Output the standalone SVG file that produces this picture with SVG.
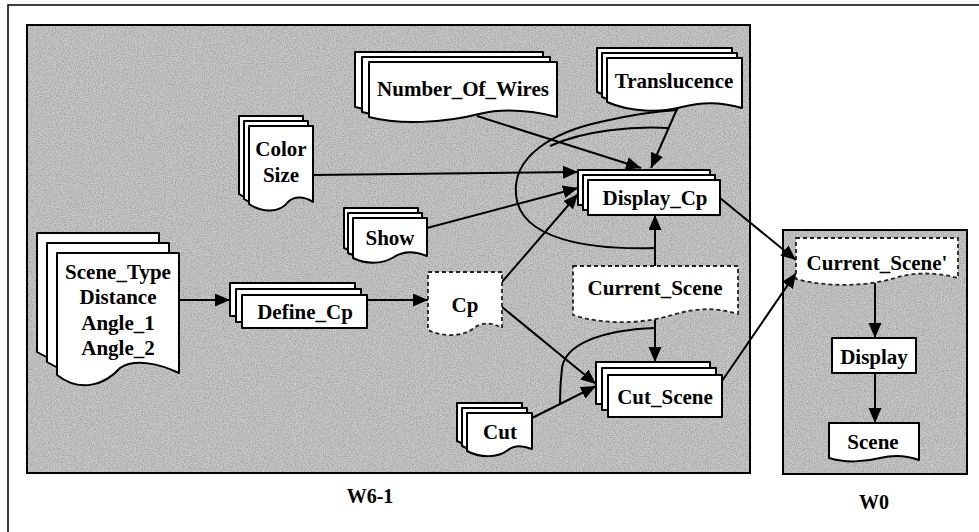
<svg xmlns="http://www.w3.org/2000/svg" width="979" height="532" viewBox="0 0 979 532">
<style>
.frame{fill:#ffffff;stroke:#000;stroke-width:1.5}
.panel{fill:#c9c9c9;stroke:#000;stroke-width:2}
.sheet{fill:#ffffff;stroke:#000;stroke-width:2;stroke-linejoin:round}
.data{fill:#ffffff;stroke:#222;stroke-width:1.8;stroke-dasharray:4 3}
.lbl{font-family:"Liberation Serif","Times New Roman",serif;font-weight:bold;font-size:21px;fill:#000;text-anchor:middle}
.cap{font-family:"Liberation Serif","Times New Roman",serif;font-weight:bold;font-size:20px;fill:#000;text-anchor:middle}
.edge{fill:none;stroke:#000;stroke-width:2}
</style>
<defs>
<marker id="ah" markerUnits="userSpaceOnUse" markerWidth="16" markerHeight="14" refX="15" refY="6.5" orient="auto">
<path d="M0,0 L15,6.5 L0,13 z" fill="#000"/>
</marker>
<filter id="grain" x="0" y="0" width="100%" height="100%">
<feTurbulence type="fractalNoise" baseFrequency="0.85" numOctaves="2" seed="7" result="n"/>
<feColorMatrix in="n" type="matrix" values="0 0 0 0 0  0 0 0 0 0  0 0 0 0 0  0 0 0 -2.4 1.55" result="d"/>
<feComposite in="d" in2="SourceGraphic" operator="in"/>
</filter>
</defs>

<rect class="frame" x="8" y="5" width="990" height="540"/>

<g id="panel-W6-1">
<rect class="panel" x="27" y="25" width="723" height="448"/>
<rect x="28" y="26" width="721" height="446" fill="#000" opacity="0.18" filter="url(#grain)"/>
<text class="cap" x="370" y="503">W6-1</text>
</g>
<g id="panel-W0">
<rect class="panel" x="783" y="230" width="184" height="244"/>
<rect x="784" y="231" width="182" height="242" fill="#000" opacity="0.18" filter="url(#grain)"/>
<text class="cap" x="874" y="509">W0</text>
</g>

<g id="connectors">
<path class="edge" d="M179,300 L230,300" marker-end="url(#ah)"/>
<path class="edge" d="M367,300 L428,300" marker-end="url(#ah)"/>
<path class="edge" d="M313,175 L578,172" marker-end="url(#ah)"/>
<path class="edge" d="M427,228 L578,188" marker-end="url(#ah)"/>
<path class="edge" d="M502,282 L578,194" marker-end="url(#ah)"/>
<path class="edge" d="M477,116 L641,168" marker-end="url(#ah)"/>
<path class="edge" d="M677,109 L651,168" marker-end="url(#ah)"/>
<path class="edge" d="M655,266 L655,215" marker-end="url(#ah)"/>
<path class="edge" d="M655,248 C590,250 520,240 516,195 C512,155 555,132 600,122 C630,115 660,111 678,110"/>
<path class="edge" d="M550,146 C585,130 635,126 668,128" stroke-width="1.5"/>
<path class="edge" d="M655,318 L655,362" marker-end="url(#ah)"/>
<path class="edge" d="M655,328 C600,330 565,345 562,368 C560,385 560,395 560,403"/>
<path class="edge" d="M502,307 L596,384" marker-end="url(#ah)"/>
<path class="edge" d="M532,418 L596,386" marker-end="url(#ah)"/>
<path class="edge" d="M720,198 L796,260" marker-end="url(#ah)"/>
<path class="edge" d="M722,381 L796,273" marker-end="url(#ah)"/>
<path class="edge" d="M875,283 L875,338" marker-end="url(#ah)"/>
<path class="edge" d="M875,373 L875,423" marker-end="url(#ah)"/>
</g>

<g id="node-scene-type">
<path class="sheet" d="M37,233 H159 V348 C135,340 120,338 98,348 C82,366 60,366 37,352 Z"/>
<path class="sheet" d="M47,243 H169 V358 C145,350 130,348 108,358 C92,376 70,376 47,362 Z"/>
<path class="sheet" d="M57,253 H179 V373 C160,364 135,358 120,368 C105,385 80,393 57,375 Z"/>
<text class="lbl" x="118" y="279">Scene_Type</text>
<text class="lbl" x="118" y="304">Distance</text>
<text class="lbl" x="118" y="330">Angle_1</text>
<text class="lbl" x="118" y="355">Angle_2</text>
</g>

<g id="node-color-size">
<path class="sheet" d="M239,116 H303 V192 C294,186 284,186 278,192 C270,203 252,203 239,194 Z"/>
<path class="sheet" d="M244,121 H308 V197 C299,191 289,191 283,197 C275,208 257,208 244,199 Z"/>
<path class="sheet" d="M249,126 H313 V202 C304,196 294,196 288,202 C280,213 262,213 249,204 Z"/>
<text class="lbl" x="281" y="156">Color</text>
<text class="lbl" x="281" y="182">Size</text>
</g>

<g id="node-show">
<path class="sheet" d="M344,208 H418 V246 C406,241 394,241 385,247 C372,255 356,254 344,248 Z"/>
<path class="sheet" d="M348,213 H422 V251 C410,246 398,246 389,252 C376,260 360,259 348,253 Z"/>
<path class="sheet" d="M353,218 H427 V256 C415,251 403,251 394,257 C381,265 365,264 353,258 Z"/>
<text class="lbl" x="390" y="245">Show</text>
</g>

<g id="node-number-of-wires">
<path class="sheet" d="M355,52 H543 V107 C515,100 490,98 465,104 C430,113 385,115 355,107 Z"/>
<path class="sheet" d="M362,57 H550 V112 C522,105 497,103 472,109 C437,118 392,120 362,112 Z"/>
<path class="sheet" d="M369,62 H557 V117 C529,110 504,108 479,114 C444,123 399,125 369,117 Z"/>
<text class="lbl" x="463" y="96">Number_Of_Wires</text>
</g>

<g id="node-translucence">
<path class="sheet" d="M597,48 H732 V98 C712,92 690,92 672,97 C650,103 620,102 597,92 Z"/>
<path class="sheet" d="M602,53 H737 V103 C717,97 695,97 677,102 C655,108 625,107 602,97 Z"/>
<path class="sheet" d="M607,58 H742 V108 C722,102 700,102 682,107 C660,113 630,112 607,102 Z"/>
<text class="lbl" x="674" y="88">Translucence</text>
</g>

<g id="node-define-cp">
<rect class="sheet" x="230" y="283" width="125" height="33"/>
<rect class="sheet" x="236" y="289" width="125" height="33"/>
<rect class="sheet" x="242" y="295" width="125" height="33"/>
<text class="lbl" x="305" y="319">Define_Cp</text>
</g>

<g id="node-cp">
<path class="data" d="M428,272 H502 V328 C492,322 482,322 474,328 C464,336 444,338 428,330 Z"/>
<text class="lbl" x="465" y="312">Cp</text>
</g>

<g id="node-display-cp">
<rect class="sheet" x="578" y="170" width="132" height="35"/>
<rect class="sheet" x="583" y="175" width="132" height="35"/>
<rect class="sheet" x="588" y="180" width="132" height="35"/>
<text class="lbl" x="655" y="205">Display_Cp</text>
</g>

<g id="node-current-scene">
<path class="data" d="M573,266 H738 V314 C715,307 695,308 672,315 C640,325 600,324 573,315 Z"/>
<text class="lbl" x="655" y="295">Current_Scene</text>
</g>

<g id="node-cut-scene">
<rect class="sheet" x="596" y="362" width="114" height="42"/>
<rect class="sheet" x="602" y="368" width="114" height="42"/>
<rect class="sheet" x="608" y="375" width="114" height="42"/>
<text class="lbl" x="665" y="404">Cut_Scene</text>
</g>

<g id="node-cut">
<path class="sheet" d="M457,403 H522 V439 C512,435 504,435 498,440 C488,448 470,448 457,441 Z"/>
<path class="sheet" d="M462,408 H527 V444 C517,440 509,440 503,445 C493,453 475,453 462,446 Z"/>
<path class="sheet" d="M467,413 H532 V449 C522,445 514,445 508,450 C498,458 480,458 467,451 Z"/>
<text class="lbl" x="500" y="439">Cut</text>
</g>

<g id="node-current-scene-prime">
<path class="data" d="M796,238 H958 V278 C935,272 915,272 895,278 C865,287 825,287 796,279 Z"/>
<text class="lbl" x="877" y="270">Current_Scene'</text>
</g>

<g id="node-display">
<rect class="sheet" x="832" y="338" width="84" height="35"/>
<text class="lbl" x="874" y="364">Display</text>
</g>

<g id="node-scene">
<path class="sheet" d="M829,423 H919 V460 C905,455 892,455 880,458 C865,462 845,463 829,458 Z"/>
<text class="lbl" x="873" y="449">Scene</text>
</g>
</svg>
